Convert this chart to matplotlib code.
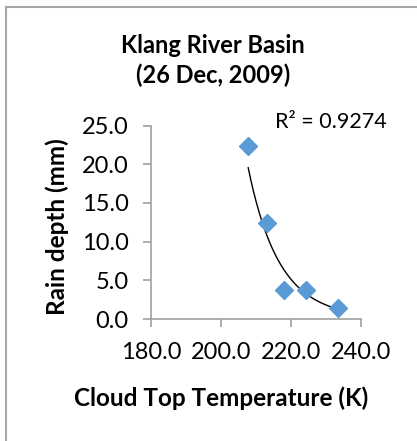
import matplotlib
matplotlib.use("Agg")
import matplotlib.pyplot as plt
from matplotlib.lines import Line2D
import numpy as np

plt.rcParams['font.family'] = ['Lato', 'DejaVu Sans']

# cloud top temperature (K) vs rain depth (mm)
cloud_temp = [207.7, 213.2, 217.9, 224.1, 233.4]
rain_depth = [22.4, 12.4, 3.8, 3.8, 1.4]
r_squared = "0.9274"
x_ticks = [180.0, 200.0, 220.0, 240.0]
y_ticks = [0.0, 5.0, 10.0, 15.0, 20.0, 25.0]

fig = plt.figure(figsize=(4.17, 4.41), dpi=100)
ax = fig.add_axes([0.363, 0.2766, 0.503, 0.4388])

ax.plot(cloud_temp, rain_depth, linestyle='none', marker='D', markersize=9.5,
        color='#5B9BD5', zorder=3)

# power trendline y = a * x^b fitted in log-log space
b, log_a = np.polyfit(np.log(cloud_temp), np.log(rain_depth), 1)
xs = np.linspace(min(cloud_temp), max(cloud_temp), 200)
ax.plot(xs, np.exp(log_a) * xs ** b, color='black', linewidth=1.0, zorder=2)

ax.set_xlim(180, 240)
ax.set_ylim(0, 25)
ax.set_xticks(x_ticks)
ax.set_yticks(y_ticks)
ax.set_xticklabels([f"{v:.1f}" for v in x_ticks])
ax.set_yticklabels([f"{v:.1f}" for v in y_ticks])

for side in ['top', 'right']:
    ax.spines[side].set_visible(False)
for side in ['left', 'bottom']:
    ax.spines[side].set_color('#a0a0a0')
    ax.spines[side].set_linewidth(1.2)
ax.tick_params(axis='both', direction='out', length=5.5, width=1.2,
               color='#a0a0a0', labelsize=17)
ax.tick_params(axis='x', pad=11)
ax.tick_params(axis='y', pad=11)

ax.set_xlabel("Cloud Top Temperature (K)", fontsize=17.5, fontweight='bold',
              va='center')
ax.xaxis.set_label_coords(0.333, -0.408)
ax.set_ylabel("Rain depth (mm)", fontsize=17.5, fontweight='bold',
              va='center')
ax.yaxis.set_label_coords(-0.45, 0.475)

fig.text(0.511, 0.862, "Klang River Basin\n(26 Dec, 2009)", ha='center',
         va='center', fontsize=17, fontweight='bold', linespacing=1.35)
ax.text(0.855, 1.018, "R² = " + r_squared, transform=ax.transAxes,
        ha='center', va='center', fontsize=15.5)

# chart frame
fig.add_artist(Line2D([5.5 / 417, 5.5 / 417], [0, 1 - 6.5 / 441],
                      transform=fig.transFigure, color='#a6a6a6', lw=1.5))
fig.add_artist(Line2D([5.5 / 417, 1], [1 - 6.5 / 441, 1 - 6.5 / 441],
                      transform=fig.transFigure, color='#a6a6a6', lw=1.5))

fig.savefig("out.png", dpi=100)
